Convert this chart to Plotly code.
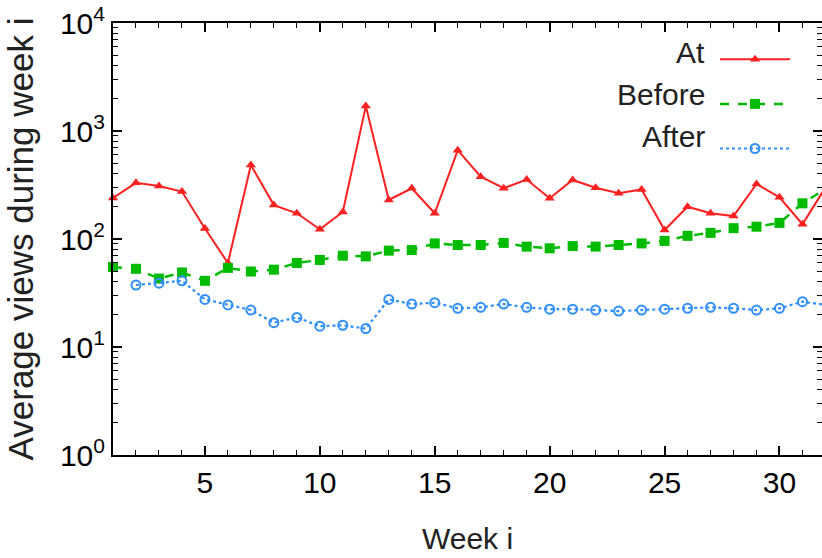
import plotly.graph_objects as go

weeks = list(range(1, 33))
at_views = [240, 331, 310, 275, 125, 60, 484, 206, 173, 123, 178, 1700, 230, 295, 173, 665,
            377, 295, 355, 238, 352, 298, 265, 288, 121, 199, 173, 163, 323, 243, 137, 300]
before_views = [55, 53, 43, 49, 41, 54, 50, 52, 60, 64, 70, 69, 78, 79, 91, 88,
                88, 92, 85, 82, 86, 85, 88, 91, 96, 107, 114, 126, 130, 141, 214, 290]
after_weeks = list(range(2, 33))
after_views = [37.5, 39, 41, 27.6, 24.5, 22, 16.8, 18.8, 15.6, 15.9, 14.8, 27.6, 25, 25.7, 22.8,
               23.3, 25, 23.3, 22.4, 22.4, 22, 21.5, 22, 22.4, 22.8, 23.3, 22.8, 22, 22.8, 26.3, 24.5]

series_labels = ["At", "Before", "After"]
x_tickvals = [5, 10, 15, 20, 25, 30]
y_tickvals = [1, 10, 100, 1000, 10000]
y_ticktext = ["10<sup>0</sup>", "10<sup>1</sup>", "10<sup>2</sup>", "10<sup>3</sup>", "10<sup>4</sup>"]
x_title = "Week i"
y_title = "Average views during week i"

RED = "#ff2020"
GREEN = "#00bb00"
BLUE = "#2f8fff"

fig = go.Figure()
fig.add_trace(go.Scatter(
    x=weeks, y=at_views, mode="lines+markers", name="",
    line=dict(color=RED, width=2),
    marker=dict(symbol="triangle-up", size=9, color=RED),
    cliponaxis=False))
fig.add_trace(go.Scatter(
    x=weeks, y=before_views, mode="lines+markers", name="",
    line=dict(color=GREEN, width=2.5, dash="dash"),
    marker=dict(symbol="square", size=10, color=GREEN),
    cliponaxis=False))
fig.add_trace(go.Scatter(
    x=after_weeks, y=after_views, mode="lines+markers", name="",
    line=dict(color=BLUE, width=2.2, dash="dot"),
    marker=dict(symbol="circle-open", size=9, color=BLUE, line=dict(width=2)),
    cliponaxis=False))

FONT = "Liberation Sans"

axis_common = dict(showline=True, linecolor="black", linewidth=2, mirror="ticks",
                   ticks="inside", tickcolor="black", tickwidth=1.5, showgrid=False,
                   zeroline=False, automargin=False)

fig.update_xaxes(**axis_common, range=[1, 31.85], tickmode="array", tickvals=x_tickvals,
                 ticklen=9,
                 minor=dict(dtick=1, tick0=1, ticks="inside", ticklen=5, tickcolor="black", tickwidth=1.2),
                 tickfont=dict(family=FONT, size=30, color="black"),
                 title=dict(text=x_title, font=dict(family=FONT, size=30, color="#222"), standoff=30))
fig.update_yaxes(**axis_common, type="log", range=[0, 4], tickmode="array",
                 tickvals=y_tickvals, ticktext=y_ticktext, ticklen=9,
                 minor=dict(dtick="D1", ticks="inside", ticklen=5, tickcolor="black", tickwidth=1.2),
                 tickfont=dict(family=FONT, size=30, color="black"),
                 title=dict(text=y_title, font=dict(family=FONT, size=35, color="#222"), standoff=16))

plot_left, plot_top, plot_bottom = 113, 23, 455
for label, ypx in zip(series_labels, [53, 95, 137]):
    fig.add_annotation(xref="paper", yref="paper", x=(707 - plot_left) / 709,
                       y=(plot_bottom - ypx) / (plot_bottom - plot_top),
                       xanchor="right", yanchor="middle", text=label, showarrow=False,
                       font=dict(family=FONT, size=30, color="#222"))

fig.update_layout(
    width=822, height=558,
    margin=dict(l=113, r=0, t=23, b=103, autoexpand=False),
    paper_bgcolor="white", plot_bgcolor="white",
    showlegend=True,
    legend=dict(x=(715 - plot_left) / 709, y=(plot_bottom - 32) / 432, xanchor="left", yanchor="top",
                bgcolor="rgba(0,0,0,0)", font=dict(size=32),
                itemwidth=70, tracegroupgap=0),
)

fig.write_html("out.html", config={"displayModeBar": False},
               post_script="document.body.style.margin='0';document.body.style.padding='0';")
